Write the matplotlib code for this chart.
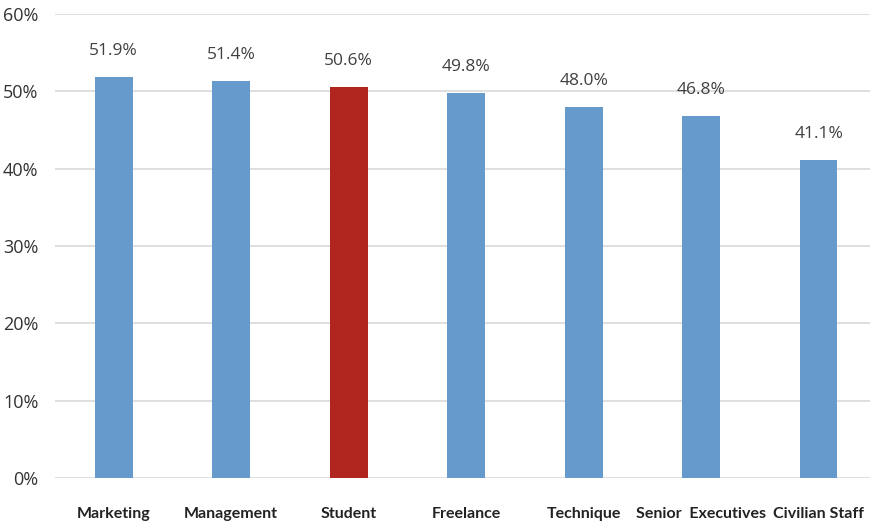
import matplotlib
matplotlib.use('Agg')
from matplotlib import pyplot as plt

categories = ['Marketing', 'Management', 'Student', 'Freelance',
              'Technique', 'Senior  Executives', 'Civilian Staff']
values = [51.9, 51.4, 50.6, 49.8, 48.0, 46.8, 41.1]
colors = ['#6699CC', '#6699CC', '#B0261E', '#6699CC', '#6699CC', '#6699CC', '#6699CC']

fig = plt.figure(figsize=(8.73, 5.23), dpi=100)
ax = fig.add_axes([0.063, 0.086, 0.934, 0.887])

x = range(len(categories))
ax.bar(x, values, width=0.32, color=colors, zorder=3)

for i, v in enumerate(values):
    ax.annotate('%.1f%%' % v, (i, v), xytext=(0, 13), textcoords='offset points',
                ha='center', va='bottom', fontsize=12.5, color='#404040', family='Open Sans')

ax.set_ylim(0, 60)
ax.set_xlim(-0.5, 6.44)
ax.set_yticks(range(0, 61, 10))
ax.set_yticklabels(['%d%%' % t for t in range(0, 61, 10)], fontsize=13,
                   color='#333333', family='Open Sans')
ax.set_xticks(list(x))
ax.set_xticklabels(categories, fontsize=11.5, fontweight='bold', color='#222222', family='Lato')
ax.tick_params(axis='both', length=0)
ax.tick_params(axis='x', pad=21)
ax.tick_params(axis='y', pad=12)
ax.yaxis.grid(True, color='#D9D9D9', linewidth=1.2, zorder=0)
for s in ax.spines.values():
    s.set_visible(False)

fig.savefig('out.png', dpi=100)
